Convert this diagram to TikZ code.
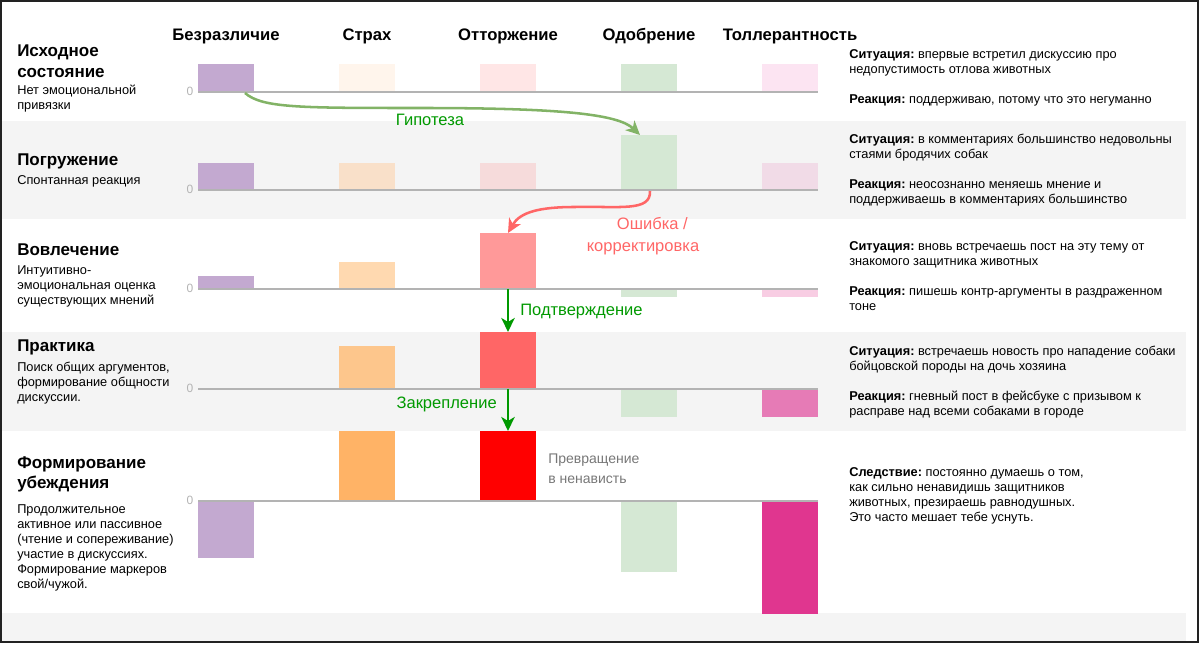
\documentclass[tikz,border=0pt]{standalone}
\usepackage{fontspec}
\setmainfont{Liberation Sans}
\usetikzlibrary{arrows.meta,calc}
\definecolor{bandgray}{HTML}{F4F4F4}
\definecolor{axisgray}{HTML}{B3B3B3}
\definecolor{framecol}{HTML}{222222}
\definecolor{cpurple}{HTML}{C3A9D0}
\definecolor{cgreen}{HTML}{D5E8D4}
\definecolor{ora}{HTML}{FFF5EC}
\definecolor{orb}{HTML}{F9E0C9}
\definecolor{orc}{HTML}{FFD9B0}
\definecolor{ord}{HTML}{FDC68C}
\definecolor{ore}{HTML}{FFB366}
\definecolor{rda}{HTML}{FFE6E6}
\definecolor{rdb}{HTML}{F6DBDB}
\definecolor{rdc}{HTML}{FF9999}
\definecolor{rdd}{HTML}{FF6666}
\definecolor{rde}{HTML}{FF0000}
\definecolor{pka}{HTML}{FCE4F2}
\definecolor{pkb}{HTML}{F1DBE7}
\definecolor{pkc}{HTML}{F8CDE3}
\definecolor{pkd}{HTML}{E67BB6}
\definecolor{pke}{HTML}{E0368F}
\definecolor{hypgreen}{HTML}{82B366}
\definecolor{okgreen}{HTML}{009900}
\definecolor{errred}{HTML}{FF6666}
\definecolor{notegray}{HTML}{777777}
\frenchspacing
\newcommand\mylines[1]{\begin{tabular}[t]{@{}l@{}}#1\end{tabular}}
\newcommand\mycentered[1]{\begin{tabular}[t]{@{}c@{}}#1\end{tabular}}
\newcommand\barnode[5]{\node[barbox,fill=#5,minimum height={(#4-#3)*0.75pt}] (#1) at (#2,{(#3+#4)/2}) {};}
\newcommand\fsmall{\fontsize{9.6pt}{11.25pt}\selectfont}
\newcommand\ftitle{\fontsize{12.75pt}{15.4pt}\selectfont\bfseries}
\newcommand\fhead{\fontsize{12.5pt}{15pt}\selectfont\bfseries}
\newcommand\flabel{\fontsize{12.4pt}{15pt}\selectfont}
\begin{document}
\begin{tikzpicture}[x=0.75pt,y=-0.75pt,
  barbox/.style={inner sep=0pt,outer sep=0pt,minimum width=42pt,draw=none,rectangle},
  axisline/.style={draw=axisgray,line width=1.1pt},
  zerolab/.style={anchor=east,inner sep=0pt,text=axisgray,font=\fontsize{9pt}{10pt}\selectfont},
  headtext/.style={anchor=base,inner sep=0pt,font=\fhead},
  titletext/.style={anchor=base west,inner sep=0pt,font=\ftitle},
  smalltext/.style={anchor=base west,inner sep=0pt,font=\fsmall},
  sidetext/.style={anchor=base west,inner sep=0pt,font=\fsmall},
  arrowtip/.style={-{Stealth[length=10.5pt,width=10pt,inset=3pt]}},
  conn/.style={arrowtip,line width=1.9pt},
]
\useasboundingbox (0,0) rectangle (1200,645);
% background bands
\fill[bandgray] (2,121) rectangle (1186,219);
\fill[bandgray] (2,332) rectangle (1186,431);
\fill[bandgray] (2,613) rectangle (1186,642);
% frame
\draw[framecol,line width=1.5pt] (1,1) rectangle (1198,642);

% column headers
\node[headtext] (h1) at (226,41) {Безразличие};
\node[headtext] (h2) at (367,41) {Страх};
\node[headtext] (h3) at (508,41) {Отторжение};
\node[headtext] (h4) at (649,41) {Одобрение};
\node[headtext] (h5) at (790,41) {Толлерантность};

% left texts
\node[titletext] (t1) at (17,56.5) {\mylines{Исходное\\состояние}};
\node[smalltext] (s1) at (17,94.7) {\mylines{Нет эмоциональной\\привязки}};
\node[titletext] (t2) at (17,165.7) {\mylines{Погружение}};
\node[smalltext] (s2) at (17,185) {\mylines{Спонтанная реакция}};
\node[titletext] (t3) at (17,255.7) {\mylines{Вовлечение}};
\node[smalltext] (s3) at (17,275) {\mylines{Интуитивно-\\эмоциональная оценка\\существующих мнений}};
\node[titletext] (t4) at (17,351.7) {\mylines{Практика}};
\node[smalltext] (s4) at (17,372) {\mylines{Поиск общих аргументов,\\формирование общности\\дискуссии.}};
\node[titletext] (t5) at (17,468) {\mylines{Формирование\\убеждения}};
\node[smalltext] (s5) at (17,513.5) {\mylines{Продолжительное\\активное или пассивное\\(чтение и сопереживание)\\участие в дискуссиях.\\Формирование маркеров\\свой/чужой.}};

% bars row 1
\barnode{b11}{226}{64}{92}{cpurple}
\barnode{b12}{367}{64}{92}{ora}
\barnode{b13}{508}{64}{92}{rda}
\barnode{b14}{649}{64}{92}{cgreen}
\barnode{b15}{790}{64}{92}{pka}
% row 2
\barnode{b21}{226}{163}{190}{cpurple}
\barnode{b22}{367}{163}{190}{orb}
\barnode{b23}{508}{163}{190}{rdb}
\barnode{b24}{649}{135}{190}{cgreen}
\barnode{b25}{790}{163}{190}{pkb}
% row 3
\barnode{b31}{226}{276}{289}{cpurple}
\barnode{b32}{367}{262}{289}{orc}
\barnode{b33}{508}{233}{289}{rdc}
\barnode{b34}{649}{289}{297}{cgreen}
\barnode{b35}{790}{289}{297}{pkc}
% row 4
\barnode{b42}{367}{346}{389}{ord}
\barnode{b43}{508}{332}{389}{rdd}
\barnode{b44}{649}{389}{417}{cgreen}
\barnode{b45}{790}{389}{417}{pkd}
% row 5
\barnode{b51}{226}{501}{558}{cpurple}
\barnode{b52}{367}{431}{501}{ore}
\barnode{b53}{508}{431}{501}{rde}
\barnode{b54}{649}{501}{572}{cgreen}
\barnode{b55}{790}{501}{614}{pke}

% axis lines and zero labels
\foreach \yy in {92,190,289,389,501}{
  \draw[axisline] (198,\yy) -- (818,\yy);
  \node[zerolab] at (193.5,\yy-0.5) {0};
}

% connectors
\coordinate (g1) at ($(b11.south)+(19,1)$);
\coordinate (g2) at ($(b24.north)+(-9,0)$);
\draw[conn,hypgreen] (g1) .. controls (262,108) and (300,108) .. (420,108)
  .. controls (560,108) and (618,114) .. (g2);
\node[anchor=base,inner sep=0pt,text=okgreen,font=\flabel] (lg) at (430,125.7) {Гипотеза};

\coordinate (r1) at ($(b24.south)+(1,1)$);
\draw[conn,errred] (r1) .. controls (651,212) and (620,206) .. (575,207)
  .. controls (540,207) and (520,212) .. (b33.north);
\node[anchor=base,inner sep=0pt,text=errred,font=\flabel] (lr) at (643,230) {\mycentered{\hspace*{14pt}Ошибка /\\[1.5pt]корректировка}};

\draw[conn,okgreen] (b33.south) -- (b43.north);
\node[anchor=base west,inner sep=0pt,text=okgreen,font=\flabel] (lc) at (520,316) {Подтверждение};
\draw[conn,okgreen] (b43.south) -- (b53.north);
\node[anchor=base east,inner sep=0pt,text=okgreen,font=\flabel] (lz) at (497,408) {Закрепление};

\node[anchor=base west,inner sep=0pt,text=notegray,font=\fontsize{10.5pt}{15pt}\selectfont] (lh) at (548,463) {\mylines{Превращение\\в ненависть}};

% right column texts
\node[sidetext] (p1) at (849,58.5) {\mylines{\textbf{Ситуация:} впервые встретил дискуссию про\\недопустимость отлова животных\\ \\\textbf{Реакция:} поддерживаю, потому что это негуманно}};
\node[sidetext] (p2) at (849,143.5) {\mylines{\textbf{Ситуация:} в комментариях большинство недовольны\\стаями бродячих собак\\ \\\textbf{Реакция:} неосознанно меняешь мнение и\\поддерживаешь в комментариях большинство}};
\node[sidetext] (p3) at (849,250.5) {\mylines{\textbf{Ситуация:} вновь встречаешь пост на эту тему от\\знакомого защитника животных\\ \\\textbf{Реакция:} пишешь контр-аргументы в раздраженном\\тоне}};
\node[sidetext] (p4) at (849,355.5) {\mylines{\textbf{Ситуация:} встречаешь новость про нападение собаки\\бойцовской породы на дочь хозяина\\ \\\textbf{Реакция:} гневный пост в фейсбуке с призывом к\\расправе над всеми собаками в городе}};
\node[sidetext] (p5) at (849,476) {\mylines{\textbf{Следствие:} постоянно думаешь о том,\\как сильно ненавидишь защитников\\животных, презираешь равнодушных.\\Это часто мешает тебе уснуть.}};
\end{tikzpicture}
\end{document}
